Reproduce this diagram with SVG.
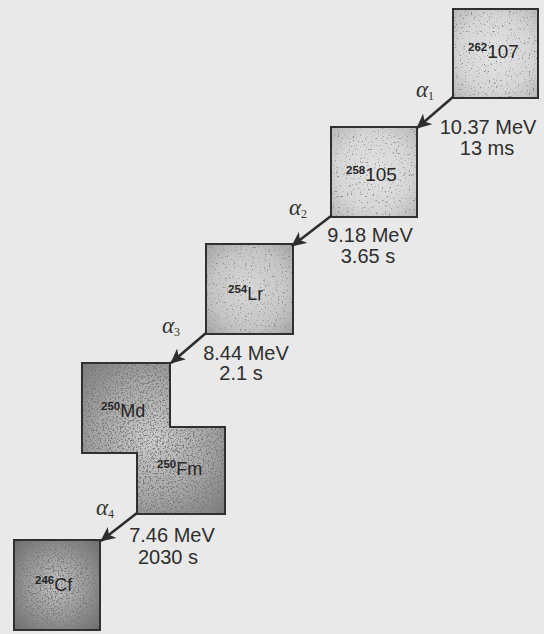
<svg xmlns="http://www.w3.org/2000/svg" width="544" height="634" viewBox="0 0 544 634">
<style>
.bg{fill:#e9e9e9}
.box{stroke:#303030;stroke-width:2;fill:none}
.num{font-family:"Liberation Sans",Arial,sans-serif;font-size:19px;fill:#262626}
.sup{font-size:11.5px;font-weight:bold}
.el{font-size:18px}
.info{font-family:"Liberation Sans",Arial,sans-serif;font-size:20px;fill:#2e2e2e;text-anchor:middle}
.alpha{font-family:"Liberation Serif","Times New Roman",serif;font-style:italic;font-size:23px;fill:#333}
.sub{font-size:12px;font-style:normal}
.conn line{stroke:#2e2e2e;stroke-width:2.6}
</style>
<defs>
<radialGradient id="gLight" cx="0.5" cy="0.5" r="0.7">
<stop offset="0" stop-color="#e2e2e2"/><stop offset="0.6" stop-color="#d6d6d6"/><stop offset="1" stop-color="#b8b8b8"/>
</radialGradient>
<radialGradient id="gMid" cx="0.5" cy="0.5" r="0.7">
<stop offset="0" stop-color="#d8d8d8"/><stop offset="0.6" stop-color="#c6c6c6"/><stop offset="1" stop-color="#a4a4a4"/>
</radialGradient>
<radialGradient id="gDark" cx="0.5" cy="0.5" r="0.7">
<stop offset="0" stop-color="#cdcdcd"/><stop offset="0.55" stop-color="#a8a8a8"/><stop offset="1" stop-color="#7c7c7c"/>
</radialGradient>
<radialGradient id="gDarker" cx="0.5" cy="0.5" r="0.7">
<stop offset="0" stop-color="#c4c4c4"/><stop offset="0.5" stop-color="#9a9a9a"/><stop offset="1" stop-color="#6a6a6a"/>
</radialGradient>
<filter id="spkL" x="0" y="0" width="1" height="1">
<feTurbulence type="fractalNoise" baseFrequency="0.55" numOctaves="2" seed="4" result="n"/>
<feColorMatrix in="n" type="matrix" values="0 0 0 0 0.25 0 0 0 0 0.25 0 0 0 0 0.25 -7 0 0 0 2.6" result="d"/>
<feComposite in="d" in2="SourceGraphic" operator="in" result="dd"/>
<feMerge><feMergeNode in="SourceGraphic"/><feMergeNode in="dd"/></feMerge>
</filter>
<filter id="spkD" x="0" y="0" width="1" height="1">
<feTurbulence type="fractalNoise" baseFrequency="0.6" numOctaves="2" seed="9" result="n"/>
<feColorMatrix in="n" type="matrix" values="0 0 0 0 0.2 0 0 0 0 0.2 0 0 0 0 0.2 -6 0 0 0 3.0" result="d"/>
<feComposite in="d" in2="SourceGraphic" operator="in" result="dd"/>
<feMerge><feMergeNode in="SourceGraphic"/><feMergeNode in="dd"/></feMerge>
</filter>
<marker id="arr" markerUnits="userSpaceOnUse" markerWidth="16" markerHeight="14" refX="14" refY="7" orient="auto" viewBox="0 0 16 14">
<path d="M0,0 L15,7 L0,14 L4,7 Z" fill="#2e2e2e"/>
</marker>
</defs>
<rect class="bg" x="0" y="0" width="544" height="634"/>

<g id="n107">
<rect x="453" y="9" width="85" height="89" fill="url(#gLight)" filter="url(#spkL)"/>
<rect class="box" x="453" y="9" width="85" height="89"/>
<text class="num" x="468" y="58"><tspan class="sup" dy="-7">262</tspan><tspan dy="7">107</tspan></text>
</g>

<g id="n105">
<rect x="331" y="127" width="86" height="90" fill="url(#gLight)" filter="url(#spkL)"/>
<rect class="box" x="331" y="127" width="86" height="90"/>
<text class="num" x="346" y="181"><tspan class="sup" dy="-7">258</tspan><tspan dy="7">105</tspan></text>
</g>

<g id="nLr">
<rect x="206" y="244" width="87" height="90" fill="url(#gMid)" filter="url(#spkL)"/>
<rect class="box" x="206" y="244" width="87" height="90"/>
<text class="num" x="228" y="300"><tspan class="sup" dy="-7">254</tspan><tspan dy="7" class="el">Lr</tspan></text>
</g>

<g id="nMdFm">
<path d="M82,363 H170 V427 H225 V514 H137 V453 H82 Z" fill="url(#gDark)" filter="url(#spkD)"/>
<path class="box" d="M82,363 H170 V427 H225 V514 H137 V453 H82 Z"/>
<text class="num" x="101" y="417"><tspan class="sup" dy="-7">250</tspan><tspan dy="7" class="el">Md</tspan></text>
<text class="num" x="157" y="475"><tspan class="sup" dy="-7">250</tspan><tspan dy="7" class="el">Fm</tspan></text>
</g>

<g id="nCf">
<rect x="14" y="540" width="86" height="90" fill="url(#gDarker)" filter="url(#spkD)"/>
<rect class="box" x="14" y="540" width="86" height="90"/>
<text class="num" x="35" y="591"><tspan class="sup" dy="-7">246</tspan><tspan dy="7" class="el">Cf</tspan></text>
</g>

<g id="connectors" class="conn">
<line x1="453" y1="97" x2="417" y2="128" marker-end="url(#arr)"/>
<line x1="331" y1="216" x2="292" y2="246" marker-end="url(#arr)"/>
<line x1="206" y1="333" x2="171" y2="363" marker-end="url(#arr)"/>
<line x1="137" y1="513" x2="101" y2="541" marker-end="url(#arr)"/>
</g>

<g id="labels">
<text class="alpha" x="416" y="97">α<tspan class="sub" dy="3">1</tspan></text>
<text class="alpha" x="289" y="215">α<tspan class="sub" dy="3">2</tspan></text>
<text class="alpha" x="162" y="333">α<tspan class="sub" dy="3">3</tspan></text>
<text class="alpha" x="96" y="515">α<tspan class="sub" dy="3">4</tspan></text>
<text class="info" x="488" y="134">10.37 MeV</text>
<text class="info" x="487" y="155">13 ms</text>
<text class="info" x="370" y="242">9.18 MeV</text>
<text class="info" x="368" y="263">3.65 s</text>
<text class="info" x="246" y="360">8.44 MeV</text>
<text class="info" x="241" y="380">2.1 s</text>
<text class="info" x="172" y="542">7.46 MeV</text>
<text class="info" x="168" y="564">2030 s</text>
</g>
</svg>
